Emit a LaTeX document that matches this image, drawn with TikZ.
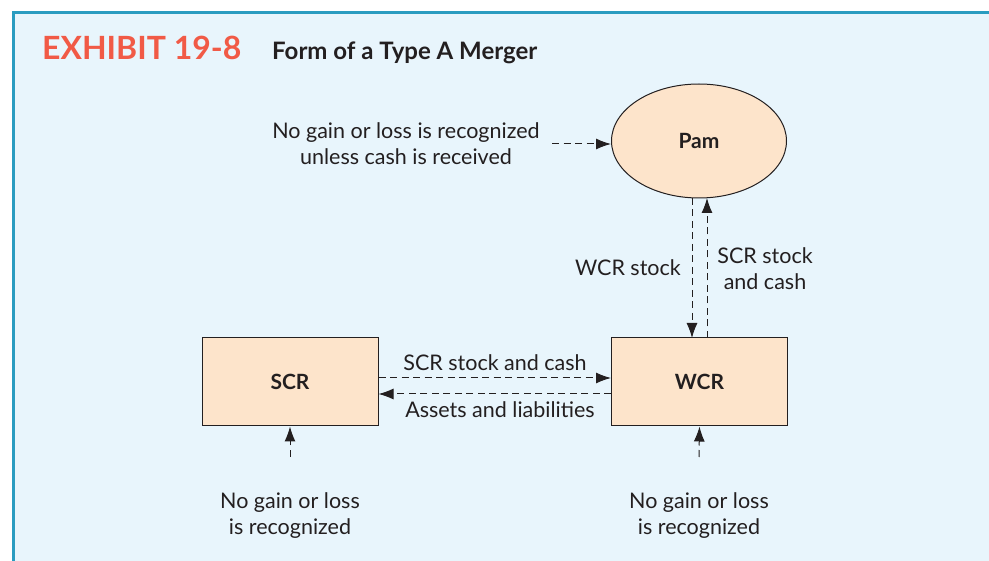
\documentclass[tikz,border=0pt]{standalone}
\usepackage{fontspec}
\setmainfont{Lato}
\usetikzlibrary{arrows.meta,shapes.geometric}
\definecolor{bgblue}{HTML}{E8F5FC}
\definecolor{frameblue}{HTML}{2A9CC0}
\definecolor{peach}{HTML}{FDE4CB}
\definecolor{ink}{HTML}{231F20}
\definecolor{exred}{HTML}{F15A46}
\tikzset{
  x=1pt, y=-1pt,
  box/.style={draw=ink, line width=1pt, fill=peach, minimum width=176pt, minimum height=88pt, font=\bfseries\fontsize{21}{24}\selectfont, text=ink},
  ovalnode/.style={ellipse, draw=ink, line width=1pt, fill=peach, minimum width=175pt, minimum height=114pt, font=\bfseries\fontsize{21}{24}\selectfont, text=ink},
  flow/.style={draw=ink, line width=1pt, dash pattern=on 7pt off 4.5pt, -{Latex[length=15pt,width=11pt]}},
  lbl/.style={font=\fontsize{21.5}{26}\selectfont, text=ink, align=center, inner sep=0pt}
}
\begin{document}
\begin{tikzpicture}
\useasboundingbox (0,0) rectangle (989,561);
\fill[white] (0,0) rectangle (989,561);
\fill[bgblue] (12,11) rectangle (989,561);
\draw[frameblue, line width=3pt] (13.5,561) -- (13.5,12.5) -- (989,12.5);
\node[anchor=base west, inner sep=0pt, text=exred, font=\bfseries\fontsize{32}{36}\selectfont] (ex) at (42,60) {EXHIBIT 19-8};
\node[anchor=base west, inner sep=0pt, text=ink, font=\bfseries\fontsize{24}{28}\selectfont] (ttl) at (272,60) {Form of a Type A Merger};

\node[ovalnode] (pam) at (699,141) {Pam};
\node[box] (wcr) at (699.5,382) {WCR};
\node[box] (scr) at (290,382) {SCR};

\node[lbl] (nogain) at (406,144) {No gain or loss is recognized\\unless cash is received};
\coordinate (nogainend) at (552,144);
\draw[flow] (nogainend) -- (pam.west |- nogainend);

\coordinate (dnTop) at (692,198);
\coordinate (dnBot) at (692,338);
\coordinate (upTop) at (707,198);
\coordinate (upBot) at (707,338);
\draw[flow] (dnTop) -- (dnBot);
\draw[flow] (upBot) -- (upTop);
\node[lbl, anchor=east] (wcrstock) at (681,268) {WCR stock};
\node[lbl] (scrstockv) at (765,269) {SCR stock\\and cash};

\draw[flow] (scr.east |- 0,378) -- (wcr.west |- 0,378);
\draw[flow] (wcr.west |- 0,394) -- (scr.east |- 0,394);
\node[lbl] (scrstockh) at (495,363) {SCR stock and cash};
\node[lbl] (assets) at (500,410) {Assets and liabilities};

\node[lbl] (nogainL) at (290,516) {No gain or loss\\is recognized};
\node[lbl] (nogainR) at (699,516) {No gain or loss\\is recognized};
\coordinate (lstart) at (290,457);
\coordinate (rstart) at (699,457);
\draw[flow] (lstart) -- (scr.south);
\draw[flow] (rstart) -- (wcr.south);
\end{tikzpicture}
\end{document}
